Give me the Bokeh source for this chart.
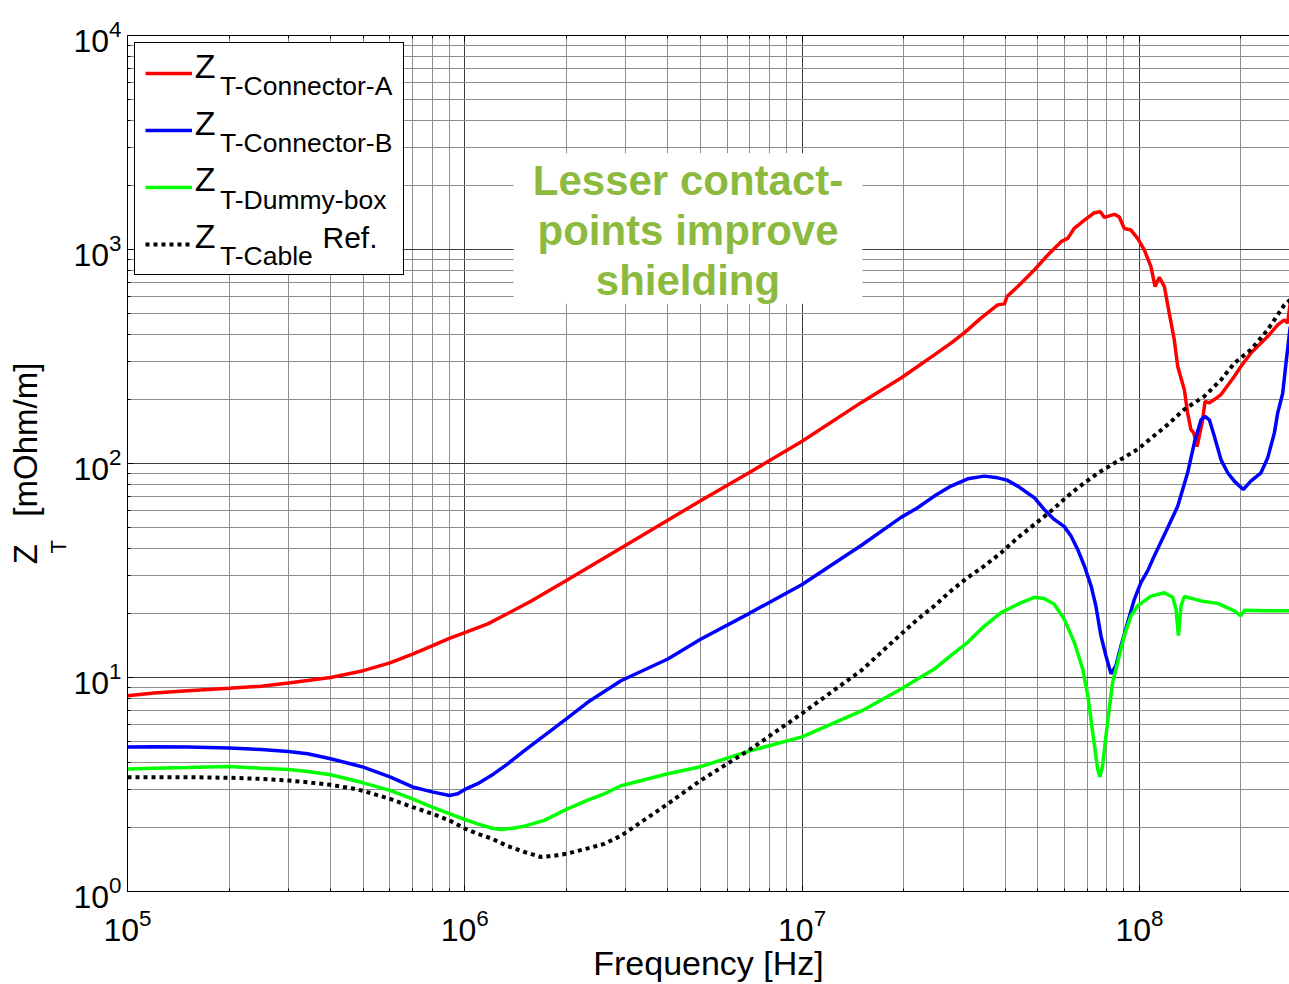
import math
from bokeh.plotting import figure
from bokeh.models import (LogAxis, Label, BoxAnnotation, Legend, LegendItem, Title,
                          CustomJSTickFormatter)
from bokeh.embed import file_html
from bokeh.resources import INLINE

# ---------------- data ----------------
freq_a = [1.0e5, 1.2e5, 1.51e5, 2.0e5, 2.49e5, 3.0e5, 4.0e5, 5.0e5, 6.0e5, 7.0e5, 8.0e5, 9.0e5,
          1.0e6, 1.17e6, 1.34e6, 1.57e6, 2.0e6, 3.0e6, 5.0e6, 7.0e6, 1.0e7, 1.5e7, 1.965e7, 2.2e7,
          2.466e7, 2.763e7, 3.03e7, 3.39e7, 3.80e7, 3.98e7, 4.05e7, 4.36e7, 4.88e7, 5.35e7, 5.86e7,
          6.13e7, 6.41e7, 6.87e7, 7.35e7, 7.66e7, 7.87e7, 8.43e7, 8.71e7, 9.02e7, 9.44e7, 9.88e7,
          1.034e8, 1.082e8, 1.113e8, 1.146e8, 1.186e8, 1.226e8, 1.269e8, 1.299e8, 1.359e8, 1.39e8,
          1.422e8, 1.449e8, 1.482e8, 1.54e8, 1.565e8, 1.612e8, 1.668e8, 1.746e8, 1.911e8, 2.0e8,
          2.14e8, 2.40e8, 2.57e8, 2.69e8, 2.75e8, 2.80e8]
zt_a = [8.22, 8.47, 8.68, 8.9, 9.1, 9.42, 10.0, 10.76, 11.7, 12.87, 14.06, 15.22,
        16.2, 17.8, 19.9, 22.7, 28.4, 41.5, 67, 91, 127, 193, 251, 284,
        322, 365, 409, 478, 551, 557, 603, 671, 802, 942, 1088,
        1127, 1256, 1373, 1485, 1500, 1413, 1459, 1422, 1254, 1233, 1127,
        995, 832, 671, 741, 671, 504, 378, 284, 221, 172,
        144, 139, 120, 160, 195, 192, 199, 210, 255, 284,
        328, 392, 444, 469, 453, 561]

freq_b = [1.0e5, 1.2e5, 1.51e5, 2.0e5, 2.49e5, 3.0e5, 3.42e5, 4.0e5, 4.7e5, 5.0e5, 6.0e5, 7.0e5,
          8.0e5, 9.0e5, 9.53e5, 1.0e6, 1.092e6, 1.198e6, 1.34e6, 1.502e6, 1.72e6, 2.0e6, 2.314e6,
          2.904e6, 4.0e6, 5.0e6, 7.0e6, 1.0e7, 1.5e7, 1.965e7, 2.2e7, 2.466e7, 2.763e7, 3.097e7,
          3.47e7, 3.80e7, 4.05e7, 4.36e7, 4.88e7, 5.22e7, 5.59e7, 5.99e7, 6.27e7, 6.56e7, 6.87e7,
          7.19e7, 7.43e7, 7.69e7, 7.96e7, 8.24e7, 8.52e7, 8.82e7, 9.23e7, 9.66e7, 1.011e8, 1.058e8,
          1.107e8, 1.213e8, 1.299e8, 1.39e8, 1.455e8, 1.523e8, 1.565e8, 1.612e8, 1.668e8, 1.746e8,
          1.827e8, 1.911e8, 2.032e8, 2.14e8, 2.293e8, 2.40e8, 2.513e8, 2.57e8, 2.66e8, 2.72e8, 2.80e8]
zt_b = [4.73, 4.75, 4.74, 4.68, 4.61, 4.51, 4.40, 4.17, 3.91, 3.81, 3.43, 3.08,
        2.92, 2.81, 2.86, 3.0, 3.19, 3.48, 3.95, 4.55, 5.35, 6.41, 7.66,
        9.66, 12.2, 15.1, 20.0, 27.2, 41.5, 56, 62.1, 70.4, 78.4, 84.8,
        87.3, 85.7, 83.6, 78.4, 69.2, 61.0, 54.8, 50.7, 45.8, 39.7, 33.2,
        26.8, 21.6, 15.7, 12.6, 10.4, 11.35, 14.06, 18.07, 23.2, 27.8, 31.5,
        37.0, 50.1, 63.1, 90.5, 125, 160, 166, 160, 134, 104,
        90.5, 82.7, 75.6, 82.7, 90.5, 106, 139, 172, 213, 294, 436]

freq_c = [1.0e5, 1.2e5, 1.51e5, 2.0e5, 2.49e5, 3.0e5, 3.42e5, 4.0e5, 4.7e5, 5.0e5, 6.0e5, 7.0e5,
          8.0e5, 9.0e5, 1.0e6, 1.092e6, 1.198e6, 1.28e6, 1.40e6, 1.502e6, 1.72e6, 2.0e6, 2.314e6,
          2.59e6, 2.904e6, 4.0e6, 5.0e6, 7.0e6, 1.0e7, 1.5e7, 1.965e7, 2.2e7, 2.466e7, 2.763e7,
          3.097e7, 3.47e7, 3.89e7, 4.36e7, 4.88e7, 5.22e7, 5.59e7, 5.99e7, 6.41e7, 6.79e7, 7.03e7,
          7.27e7, 7.52e7, 7.64e7, 7.78e7, 7.96e7, 8.14e7, 8.33e7, 8.62e7, 9.02e7, 9.44e7, 9.88e7,
          1.082e8, 1.186e8, 1.255e8, 1.284e8, 1.305e8, 1.329e8, 1.359e8, 1.523e8, 1.706e8, 1.911e8,
          2.0e8, 2.047e8, 2.40e8, 2.80e8]
zt_c = [3.74, 3.77, 3.80, 3.84, 3.77, 3.72, 3.64, 3.51, 3.30, 3.22, 2.97, 2.71,
        2.48, 2.31, 2.17, 2.07, 1.98, 1.95, 1.98, 2.02, 2.15, 2.42, 2.67,
        2.86, 3.12, 3.55, 3.83, 4.54, 5.28, 6.98, 8.84, 9.84, 10.95, 12.7,
        14.6, 17.4, 20.1, 22.0, 23.7, 23.4, 22.0, 18.7, 14.6, 10.95, 8.23,
        5.55, 3.74, 3.43, 3.88, 5.35, 7.13, 9.5, 11.75, 15.7, 19.4, 21.6,
        24.0, 24.9, 23.7, 20.9, 15.7, 21.6, 23.9, 22.8, 22.2, 20.5,
        19.4, 20.6, 20.5, 20.5]

freq_d = [1.0e5, 1.51e5, 2.0e5, 2.49e5, 3.0e5, 3.42e5, 4.0e5, 4.7e5, 5.0e5, 6.0e5, 7.0e5, 8.0e5,
          9.0e5, 1.0e6, 1.092e6, 1.198e6, 1.34e6, 1.502e6, 1.68e6, 1.84e6, 2.0e6, 2.314e6, 2.59e6,
          2.904e6, 4.0e6, 5.0e6, 7.0e6, 1.0e7, 1.5e7, 1.965e7, 2.2e7, 2.466e7, 2.763e7, 3.097e7,
          3.47e7, 3.89e7, 4.36e7, 4.88e7, 5.47e7, 6.13e7, 6.87e7, 7.69e7, 8.62e7, 9.66e7, 1.011e8,
          1.213e8, 1.359e8, 1.557e8, 1.746e8, 1.911e8, 2.14e8, 2.40e8, 2.69e8, 2.80e8]
zt_d = [3.42, 3.42, 3.40, 3.36, 3.30, 3.24, 3.15, 3.02, 2.95, 2.71, 2.48, 2.31,
        2.15, 1.97, 1.86, 1.77, 1.63, 1.53, 1.45, 1.47, 1.50, 1.59, 1.67,
        1.82, 2.57, 3.3, 4.6, 6.8, 10.8, 15.95, 18.7, 21.6, 25.4, 29.3,
        33.2, 38.3, 45.0, 51.9, 60, 70.4, 81.3, 92, 102.5, 114, 120,
        152, 179, 206, 246, 294, 340, 421, 551, 582]

legend_subs = ["T-Connector-A", "T-Connector-B", "T-Dummy-box", "T-Cable"]
note_lines = ["Lesser contact-", "points improve", "shielding"]
x_title = "Frequency [Hz]"
y_title_main = "Z\u00a0\u00a0\u00a0[mOhm/m]"
y_title_sub = "T"

# ---------------- layout (figure pixels) ----------------
W, H = 1289, 984
FL, FR, FT, FB = 127, 1289, 35, 893
DEC_X = 337.3
DEC_Y = (FB - FT) / 4.0
X0 = 1e5
X1 = 10 ** (5 + (FR - FL) / DEC_X)
FONT = "Liberation Sans"


def xd(px):
    return 10 ** (5 + (px - FL) / DEC_X)


def yd(py):
    return 10 ** ((FB - py) / DEC_Y)


p = figure(width=W, height=H, x_axis_type="log", y_axis_type="log",
           x_range=(X0, X1), y_range=(1.0, 1e4),
           output_backend="svg", toolbar_location=None,
           min_border_left=FL, min_border_right=0,
           min_border_top=FT, min_border_bottom=H - FB)
p.outline_line_color = None
p.background_fill_color = "white"

xa = p.below[0]
ya = p.left[0]
xa.ticker.num_minor_ticks = 10
ya.ticker.num_minor_ticks = 10

empty = CustomJSTickFormatter(code="return ''")
top_axis = LogAxis(ticker=xa.ticker, formatter=empty)
p.add_layout(top_axis, "above")

for ax in [xa, ya, top_axis]:
    ax.axis_line_color = "black"
    ax.axis_line_width = 1
    ax.major_tick_line_color = "black"
    ax.minor_tick_line_color = "black"
    ax.major_tick_in = 6
    ax.major_tick_out = 0
    ax.minor_tick_in = 3
    ax.minor_tick_out = 0

for ax in [xa, ya]:
    ax.major_label_text_font = FONT
    ax.major_label_text_font_size = "32px"
    ax.major_label_text_color = "black"
xa.major_label_standoff = 17
ya.major_label_standoff = 6

xa.axis_label = x_title
xa.axis_label_text_font = FONT
xa.axis_label_text_font_size = "34px"
xa.axis_label_text_font_style = "normal"
xa.axis_label_text_color = "black"
xa.axis_label_standoff = 0

# y axis title: subscript column (closer to the axis) and main column
t_sub = Title(text=y_title_sub, align="left", offset=338, standoff=0,
              text_font=FONT, text_font_size="22px", text_font_style="normal",
              text_color="black")
t_main = Title(text=y_title_main, align="center", offset=-2, standoff=0,
               text_font=FONT, text_font_size="33px", text_font_style="normal",
               text_color="black")
p.add_layout(t_sub, "left")
p.add_layout(t_main, "left")

for g in [p.xgrid[0], p.ygrid[0]]:
    g.grid_line_color = "#3c3c3c"
    g.grid_line_width = 1
    g.minor_grid_line_color = "#8e8e8e"
    g.minor_grid_line_width = 1

r_a = p.line(freq_a, zt_a, line_color="#FF0000", line_width=3.5)
r_b = p.line(freq_b, zt_b, line_color="#0000FF", line_width=3.5)
r_c = p.line(freq_c, zt_c, line_color="#00FF00", line_width=3.5)
r_d = p.line(freq_d, zt_d, line_color="black", line_width=4, line_dash="4 4")

# white backing of the legend box (legend itself is transparent so its texts show)
p.add_layout(BoxAnnotation(left=xd(134), right=xd(402), top=yd(42), bottom=yd(274),
                           fill_color="white", fill_alpha=1.0, line_alpha=0.0))

legend = Legend(items=[LegendItem(label=" ", renderers=[r]) for r in [r_a, r_b, r_c, r_d]],
                location="top_left", margin=7, padding=10, spacing=17,
                glyph_width=47, glyph_height=40, label_width=195, label_height=40,
                label_standoff=6, label_text_font_size="20px",
                border_line_color="black", border_line_width=1, border_line_alpha=1,
                background_fill_color="white", background_fill_alpha=0.0)
p.add_layout(legend)


def lab(text, px, base_py, size, align="left", bold=False, color="black"):
    # anchor at the vertical middle of the capitals, given the wanted baseline
    py = base_py - 0.355 * size
    p.add_layout(Label(x=xd(px), y=yd(py), x_units="data", y_units="data", text=text,
                       text_font=FONT, text_font_size=f"{size}px",
                       text_font_style="bold" if bold else "normal",
                       text_align=align, text_baseline="middle",
                       text_color=color, level="overlay"))


# legend texts
for i, sub in enumerate(legend_subs):
    zb = 78 + i * 56.7
    lab("Z", 194.3, zb, 34)
    lab(sub, 219.5, zb + 17.5, 26.5)
lab("Ref.", 322, 248, 30)

# annotation
p.add_layout(BoxAnnotation(left=xd(513), right=xd(862), top=yd(153), bottom=yd(304),
                           fill_color="white", fill_alpha=1.0, line_alpha=0.0))
for i, t in enumerate(note_lines):
    lab(t, 687.5, 195 + 50 * i, 42, align="center", bold=True, color="#8CBA3F")

open("out.html", "w").write(file_html(p, INLINE))
